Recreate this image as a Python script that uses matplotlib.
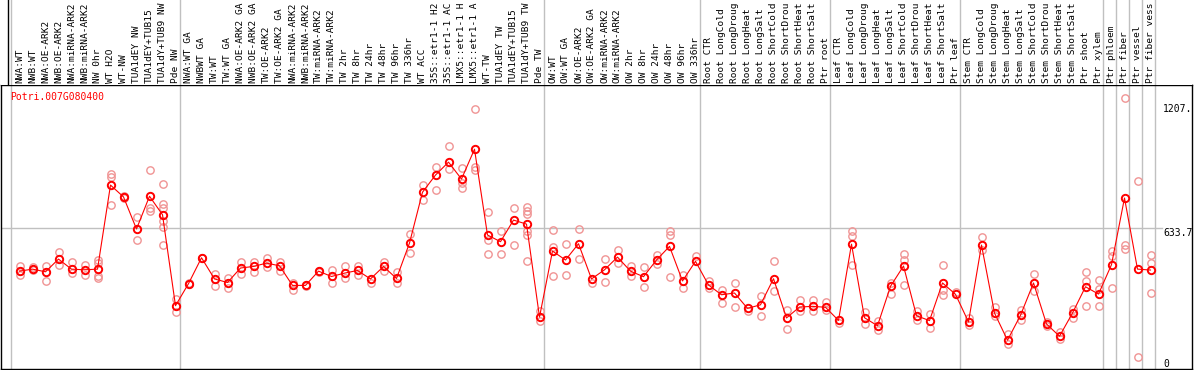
import matplotlib
matplotlib.use("Agg")
import matplotlib.pyplot as plt
import matplotlib.transforms as mtransforms

gene = "Potri.007G080400"

# sample names as far as they show in the header (long ones are cut there)
labels = [
    "NWA:WT", "NWB:WT", "NWA:OE-ARK2", "NWB:OE-ARK2", "NWA:miRNA-ARK2", "NWB:miRNA-ARK2",
    "NW 0hr", "WT H2O", "WT-NW", "TUA1dEY NW", "TUA1dEY+TUB15", "TUA1dY+TUB9 NW", "Pde NW",
    "NWA:WT GA", "NWBWT GA", "TW:WT", "TW:WT GA", "NWA:OE-ARK2 GA", "NWB:OE-ARK2 GA",
    "TW:OE-ARK2", "TW:OE-ARK2 GA", "NWA:miRNA-ARK2", "NWB:miRNA-ARK2", "TW:miRNA-ARK2",
    "TW:miRNA-ARK2", "TW 2hr", "TW 8hr", "TW 24hr", "TW 48hr", "TW 96hr", "TW 336hr", "WT ACC",
    "35S::etr1-1 H2", "35S::etr1-1 AC", "LMX5::etr1-1 H", "LMX5::etr1-1 A", "WT-TW",
    "TUA1dEY TW", "TUA1dEY+TUB15", "TUA1dY+TUB9 TW", "Pde TW",
    "OW:WT", "OW:WT GA", "OW:OE-ARK2", "OW:OE-ARK2 GA", "OW:miRNA-ARK2", "OW:miRNA-ARK2",
    "OW 2hr", "OW 8hr", "OW 24hr", "OW 48hr", "OW 96hr", "OW 336hr",
    "Root CTR", "Root LongCold", "Root LongDroug", "Root LongHeat", "Root LongSalt",
    "Root ShortCold", "Root ShortDrou", "Root ShortHeat", "Root ShortSalt", "Ptr root",
    "Leaf CTR", "Leaf LongCold", "Leaf LongDroug", "Leaf LongHeat", "Leaf LongSalt",
    "Leaf ShortCold", "Leaf ShortDrou", "Leaf ShortHeat", "Leaf ShortSalt", "Ptr leaf",
    "Stem CTR", "Stem LongCold", "Stem LongDroug", "Stem LongHeat", "Stem LongSalt",
    "Stem ShortCold", "Stem ShortDrou", "Stem ShortHeat", "Stem ShortSalt", "Ptr shoot",
    "Ptr xylem", "Ptr phloem", "Ptr fiber", "Ptr vessel", "Ptr fiber vess",
]

means = [
    439, 448, 436, 493, 448, 445, 448, 825, 772, 628, 775, 692, 284,
    383, 499, 404, 388, 453, 460, 475, 463, 375, 375, 439, 415, 430, 442, 404, 460, 406,
    565, 793, 870, 928, 852, 986, 601, 571, 668, 650, 233,
    529, 489, 562, 404, 445, 502, 439, 414, 489, 550, 395, 483,
    377, 333, 341, 272, 288, 405, 229, 278, 281, 277,
    218, 560, 230, 194, 371, 462, 239, 217, 386, 335,
    211, 556, 251, 129, 241, 386, 202, 147, 251, 369, 336,
    468, 767, 448, 444,
]

reps = [
    [463, 421, 440], [456, 443], [460, 397], [526, 466], [478, 430], [468, 423],
    [490, 475, 415, 406], [875, 861, 735], [775, 768], [681, 580], [893, 722, 707],
    [829, 741, 722, 662, 639, 557], [314, 257],
    [385, 380], [500, 497], [426, 371], [406, 362], [481, 426], [481, 433], [500, 456],
    [478, 439], [388, 353], [377, 373], [441, 437], [445, 386], [463, 406], [463, 423],
    [388], [481, 439], [433, 386], [607, 520], [826, 759], [905, 804], [1001, 896],
    [902, 834, 811], [1165, 905, 893], [704, 577, 517], [620, 517], [722, 556],
    [726, 711, 696, 617, 602, 484], [259, 214],
    [625, 547, 418], [562, 422], [628, 493], [388], [493, 392], [535, 475], [463, 415],
    [457, 368], [511, 469], [621, 603, 414], [422, 362], [505],
    [396, 362], [356, 296], [386, 278], [259], [329, 239], [484, 348], [263, 180],
    [308, 259], [311, 259], [299, 263],
    [206], [621, 598, 465], [254, 203], [215, 176], [388, 338], [516, 490, 378],
    [259, 221], [248, 185], [466, 356, 332], [347],
    [229, 199], [592, 535], [278, 236], [159, 114], [263, 221], [427, 351], [211, 194],
    [166, 135], [269, 230], [433, 396, 284], [400, 359, 284],
    [530, 505, 363], [1215, 556, 538], [843, 54], [511, 475, 341],
]

# first column of each group (group boundaries)
group_starts = [0, 13, 41, 53, 63, 73, 84, 85, 86, 87, 88]
mid_value = 633.7
top_label = "1207."
y_max = 1274

W, H = 1194, 370
fig = plt.figure(figsize=(W / 100, H / 100), dpi=100)

# pixel -> column index mapping: column i centred at 19.5 + 13 i px
def px2col(px):
    return (px - 19.5) / 13.0

xlo, xhi = px2col(1), px2col(1192)

ax = fig.add_axes([1 / W, 1 / H, 1191 / W, 284 / H])
hdr = fig.add_axes([1 / W, 285 / H, 1191 / W, 85 / H])

grey = "#c0c0c0"
mono = "DejaVu Sans Mono"

for a in (ax, hdr):
    a.set_xlim(xlo, xhi)
    a.set_xticks([])
    a.set_yticks([])
    for s in a.spines.values():
        s.set_linewidth(1)
        s.set_color("black")
    for g in group_starts:
        a.axvline(g - 0.64, color=grey, lw=1, zorder=0)

for s in hdr.spines.values():
    s.set_visible(False)
hdr.set_ylim(0, 1)
hdr.axvline(px2col(8), color="black", lw=1)

ax.set_ylim(0, y_max)
ax.axhline(mid_value, xmax=(px2col(1162) - xlo) / (xhi - xlo), color=grey, lw=1, zorder=0)

x = list(range(len(means)))

# header labels
for i, lab in enumerate(labels):
    hdr.text(i, 2 / 85, lab, rotation=90, ha="center", va="bottom",
             family=mono, fontsize=6.8, color="black")

# replicate points
rx, ry = [], []
for i, r in enumerate(reps):
    rx += [i] * len(r)
    ry += r
ax.plot(rx, ry, "o", ms=5.3, mfc="none", mec="#f09494", mew=1.0, zorder=2)

ax.plot(x, means, "-", color="red", lw=0.8, zorder=3)
ax.plot(x, means, "o", ms=5.3, mfc="none", mec="red", mew=1.4, zorder=4)

ax.text(px2col(10), 0.975, gene, transform=mtransforms.blended_transform_factory(ax.transData, ax.transAxes),
        ha="left", va="top", family=mono, fontsize=7, color="red")

tx = px2col(1163)
ax.text(tx, 1190, top_label, ha="left", va="top", family=mono, fontsize=7)
ax.text(tx, mid_value, f"{mid_value}", ha="left", va="top", family=mono, fontsize=7)
ax.text(tx, 0, "0", ha="left", va="bottom", family=mono, fontsize=7)

fig.savefig("out.png", dpi=100)
